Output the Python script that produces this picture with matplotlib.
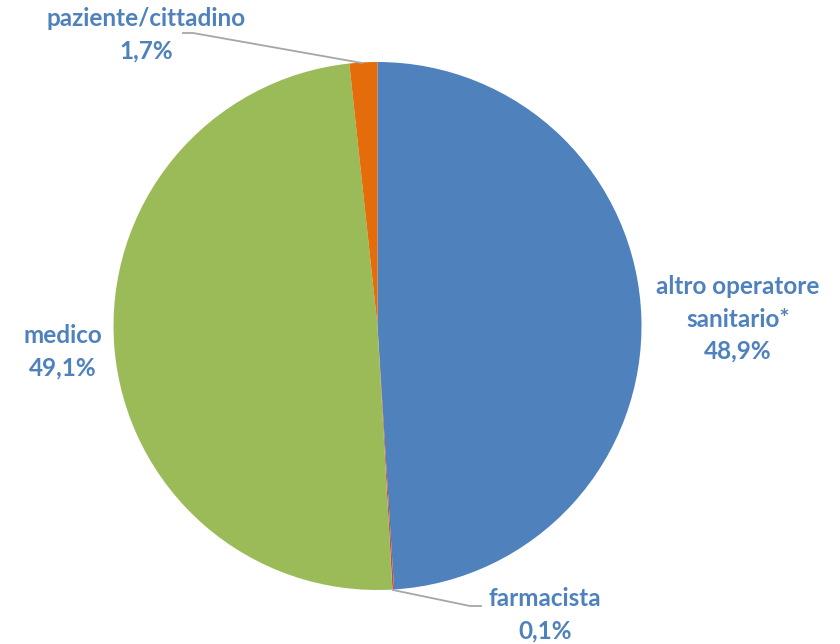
import matplotlib.pyplot as plt

# dati
categorie = ["altro operatore\nsanitario*", "farmacista", "medico", "paziente/cittadino"]
valori = [48.9, 0.1, 49.1, 1.7]
colori = ["#4F81BD", "#C0504D", "#9BBB59", "#E46C0A"]

W, H = 840, 644
cx, cy, r = 377.5, H - 326, 264

fig = plt.figure(figsize=(8.4, 6.44), dpi=100)
ax = fig.add_axes([0, 0, 1, 1])
ax.pie(valori, colors=colori, startangle=90, counterclock=False,
       center=(cx, cy), radius=r, frame=True,
       wedgeprops=dict(linewidth=0))
ax.set_xlim(0, W)
ax.set_ylim(0, H)
ax.axis("off")

colore_testo = "#4F81BD"
font = dict(family=["Lato", "DejaVu Sans"], fontweight="bold", fontsize=17.5,
            color=colore_testo, ha="center", va="center", linespacing=1.48)

def etichetta(i, x, y):
    pct = f"{valori[i]:.1f}".replace(".", ",") + "%"
    ax.text(x, H - y, categorie[i] + "\n" + pct, **font)

etichetta(0, 738, 319)
etichetta(1, 545, 615)
etichetta(2, 63, 352)
etichetta(3, 146, 35)

# linee guida
grigio = "#A6A6A6"
ax.plot([183, 193, 362], [H - 33, H - 33, H - 63], color=grigio, lw=1.3)
ax.plot([393, 470, 481], [H - 590, H - 606, H - 606], color=grigio, lw=1.3)

fig.savefig("out.png", dpi=100)
